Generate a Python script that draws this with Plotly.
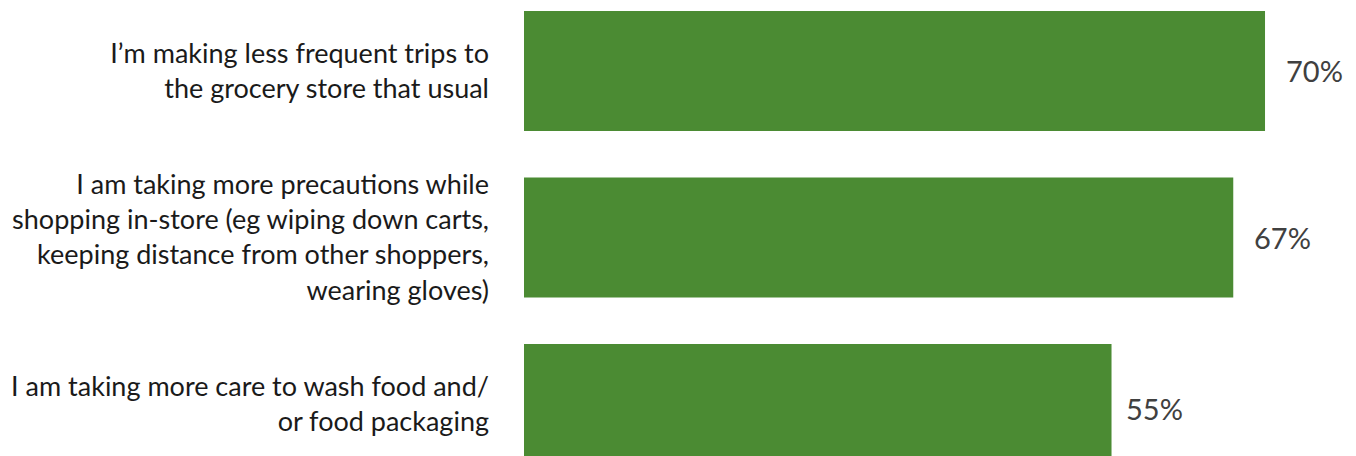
import plotly.graph_objects as go

categories = [
    "I’m making less frequent trips to<br>the grocery store that usual",
    "I am taking more precautions while<br>shopping in-store (eg wiping down carts,<br>keeping distance from other shoppers,<br>wearing gloves)",
    "I am taking more care to wash food and/<br>or food packaging",
]
values = [70, 67, 55.5]
value_labels = ["70%", "67%", "55%"]

label_xshift = [19, 19, 12]
label_yshift = [0, 0, -4]

fig = go.Figure()
fig.add_trace(go.Bar(
    x=values, y=categories, orientation="h",
    marker=dict(color="#4b8b33", line=dict(width=0)),
    width=0.72, hoverinfo="skip",
))
for c, v, t, xs, ys in zip(categories, values, value_labels, label_xshift, label_yshift):
    fig.add_annotation(x=v, y=c, text=t, showarrow=False, xanchor="left",
                       xshift=xs, yshift=ys,
                       font=dict(family="Lato", size=29, color="#404040"))

fig.update_layout(
    width=1356, height=456,
    margin=dict(l=516, r=0, t=0, b=0),
    paper_bgcolor="white", plot_bgcolor="white",
    showlegend=False,
    font=dict(family="Lato", size=27, color="#1a1a1a"),
    xaxis=dict(range=[0, 79.35], visible=False, fixedrange=True),
    yaxis=dict(range=[2.36, -0.378], showgrid=False, zeroline=False, showline=False,
               ticks="", ticklabelstandoff=34, fixedrange=True,
               tickfont=dict(family="Lato", size=27, color="#1a1a1a")),
)
fig.write_html("out.html")
